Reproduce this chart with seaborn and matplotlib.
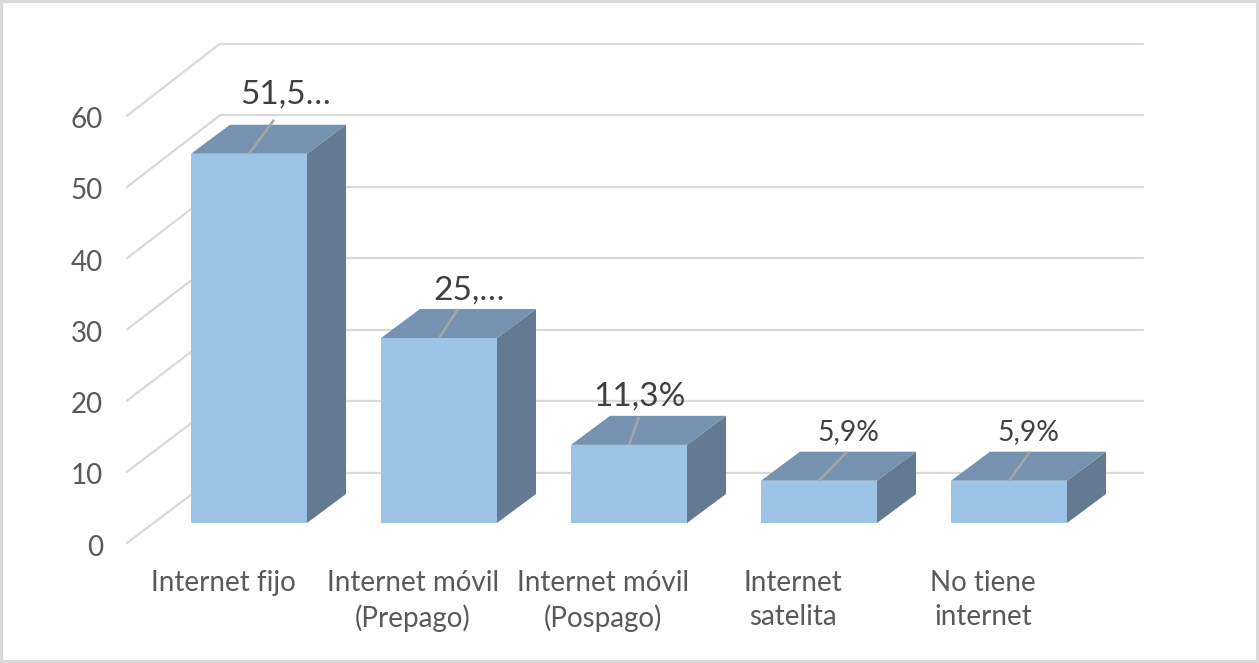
"""Internet access by type: pseudo-3D column chart (Excel style)."""
import matplotlib
matplotlib.use("Agg")  # headless
import matplotlib.pyplot as plt
from matplotlib.patches import Polygon, Rectangle
from matplotlib.transforms import ScaledTranslation
import pandas as pd
import seaborn as sns

categories = ["Internet fijo", "Internet móvil\n(Prepago)", "Internet móvil\n(Pospago)",
              "Internet\nsatelita", "No tiene\ninternet"]
values = [51.5, 25.8, 10.9, 5.9, 5.9]
value_labels = ["51,5…", "25,…", "11,3%", "5,9%", "5,9%"]
label_sizes = [24, 24, 24, 20.3, 20.3]
y_ticks = [0, 10, 20, 30, 40, 50, 60]

# layout, in reference pixels
W, H, DPI = 1259, 663, 100
AX_L, AX_R, AX_BOTTOM, PX_PER_UNIT = 154, 1104, 523, 7.17
PX_PER_CAT = (AX_R - AX_L) / 5
label_dx = [37, 30, 11, 29, 19]
label_dy = [59, 47, 48, 49, 49]
leader_dx = [25, 19, 10, 28, 21]
leader_dy = [34, 29, 28, 29, 29]

C_FRONT, C_TOP, C_SIDE = "#9dc3e6", "#7592b0", "#647a92"
C_GRID, C_TEXT, C_LABEL = "#d9d9d9", "#595959", "#404040"

sns.set_theme(style="white")
plt.rcParams["font.family"] = "Lato"


def dx(px):
    return px / PX_PER_CAT


def dy(px):
    return px / PX_PER_UNIT


df = pd.DataFrame({"categoria": categories, "valor": values})

fig = plt.figure(figsize=(W / DPI, H / DPI), dpi=DPI, facecolor="white")
top_px = AX_BOTTOM - 60 * PX_PER_UNIT
ax = fig.add_axes([AX_L / W, 1 - AX_BOTTOM / H, (AX_R - AX_L) / W, (AX_BOTTOM - top_px) / H])

# back wall gridlines + the diagonals on the left wall
for v in y_ticks:
    back_y = v + dy(50) - v * 0.002
    ax.plot([-0.5 - dx(27), -0.5 + dx(66)], [v - dy(20) - v * 0.007, back_y],
            color=C_GRID, lw=1.6, clip_on=False, zorder=1)
    ax.plot([-0.5 + dx(66), 4.5 + dx(39)], [back_y, back_y],
            color=C_GRID, lw=1.6, clip_on=False, zorder=1)

sns.barplot(data=df, x="categoria", y="valor", color=C_FRONT, saturation=1,
            width=116 / PX_PER_CAT, linewidth=0, ax=ax, zorder=3)

# extrude each seaborn bar into a box
ddx, ddy = dx(39), dy(29)
for i, bar in enumerate(ax.patches):
    x0, w, h = bar.get_x(), bar.get_width(), bar.get_height()
    ax.add_patch(Polygon([(x0 + w, 0), (x0 + w + ddx, ddy), (x0 + w + ddx, h + ddy), (x0 + w, h)],
                         fc=C_SIDE, ec="none", clip_on=False, zorder=3))
    ax.add_patch(Polygon([(x0, h), (x0 + ddx, h + ddy), (x0 + w + ddx, h + ddy), (x0 + w, h)],
                         fc=C_TOP, ec="none", clip_on=False, zorder=3))
    # leader line and data label
    ax.plot([x0 + w / 2, x0 + w / 2 + dx(leader_dx[i])], [h, h + dy(leader_dy[i])],
            color="#a6a6a6", lw=1.8, clip_on=False, zorder=4, solid_capstyle="butt")
    ax.annotate(value_labels[i], xy=(x0 + w / 2, h),
                xytext=(label_dx[i] * 72 / DPI, label_dy[i] * 72 / DPI),
                textcoords="offset points", ha="center", va="center",
                fontsize=label_sizes[i], color=C_LABEL, zorder=5, annotation_clip=False)

ax.set_xlim(-0.5, 4.5)
ax.set_ylim(0, 60)
ax.set_xlabel("")
ax.set_ylabel("")
ax.patch.set_alpha(0)
sns.despine(ax=ax, left=True, bottom=True)

ax.set_yticks(y_ticks)
ax.tick_params(axis="y", length=0, pad=51 * 72 / DPI, labelsize=20, labelcolor=C_TEXT)
ax.tick_params(axis="x", length=0, pad=47 * 72 / DPI, labelsize=20, labelcolor=C_TEXT)

# the axis labels sit on the front of the floor, not on the bar plane
for lab, v in zip(ax.get_yticklabels(), y_ticks):
    lab.set_transform(lab.get_transform() + ScaledTranslation(
        0, -(22 + v * 0.05) / DPI, fig.dpi_scale_trans))
for lab in ax.get_xticklabels():
    lab.set_linespacing(1.37)
    lab.set_transform(lab.get_transform() + ScaledTranslation(-26 / DPI, 0, fig.dpi_scale_trans))

# picture frame
fig.add_artist(Rectangle((0, 0), 1, 1, transform=fig.transFigure, fill=False,
                         ec=C_GRID, lw=4.3))

fig.savefig("out.png", dpi=DPI)
plt.close(fig)
